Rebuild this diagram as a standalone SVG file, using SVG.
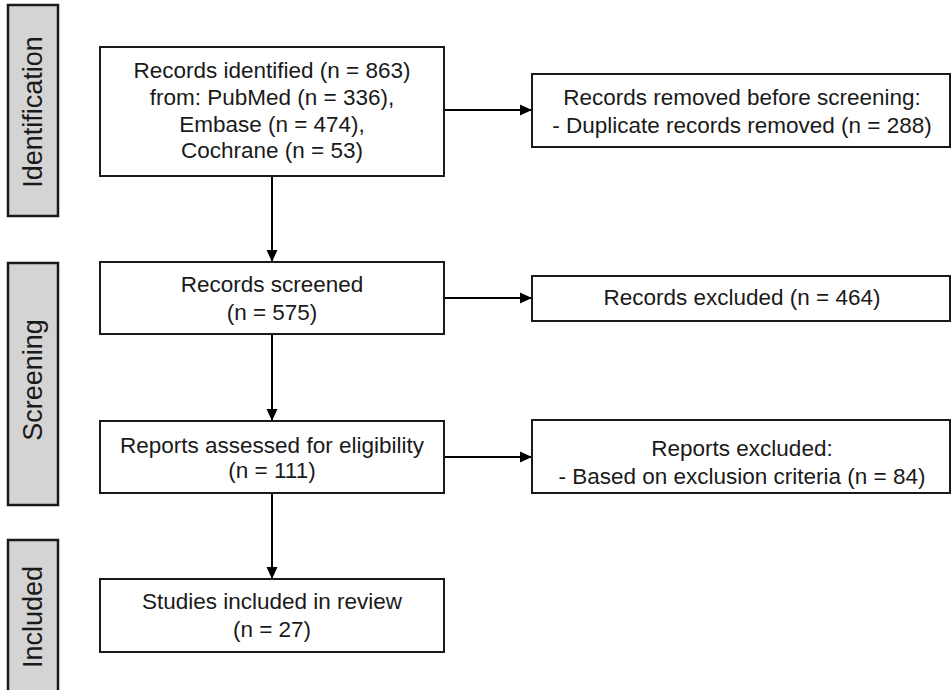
<svg xmlns="http://www.w3.org/2000/svg" width="952" height="690" viewBox="0 0 952 690">
<style>
.box{fill:#fff;stroke:#1a1a1a;stroke-width:2}
.bar{fill:#d4d4d4;stroke:#1a1a1a;stroke-width:2.5}
.t{font-family:"Liberation Sans",Arial,sans-serif;font-size:22.5px;fill:#1a1a1a;text-anchor:middle}
.s{font-family:"Liberation Sans",Arial,sans-serif;font-size:27px;fill:#1a1a1a;text-anchor:middle}
.c{stroke:#000;stroke-width:2;fill:none;marker-end:url(#ah)}
</style>
<defs>
<marker id="ah" viewBox="0 0 12 12" refX="12" refY="6" markerWidth="12" markerHeight="12" markerUnits="userSpaceOnUse" orient="auto">
<path d="M0,0.5 L12,6 L0,11.5 z" fill="#000"/>
</marker>
</defs>
<rect width="952" height="690" fill="#fff"/>
<g id="phase-identification">
<rect class="bar" x="8" y="5" width="50" height="211"/>
<text class="s" transform="translate(42,112) rotate(-90)">Identification</text>
</g>
<g id="phase-screening">
<rect class="bar" x="8" y="263" width="50" height="242"/>
<text class="s" transform="translate(42,380) rotate(-90)">Screening</text>
</g>
<g id="phase-included">
<rect class="bar" x="8" y="540" width="50" height="160"/>
<text class="s" transform="translate(42,617) rotate(-90)">Included</text>
</g>
<g id="connectors">
<path class="c" d="M444,110 H532"/>
<path class="c" d="M272,176 V262"/>
<path class="c" d="M444,298 H532"/>
<path class="c" d="M272,334 V421"/>
<path class="c" d="M444,457 H532"/>
<path class="c" d="M272,493 V579"/>
</g>
<g id="identified">
<rect class="box" x="100" y="47" width="344" height="129"/>
<text class="t" x="272" y="78">Records identified (n = 863)</text>
<text class="t" x="272" y="105">from: PubMed (n = 336),</text>
<text class="t" x="272" y="132">Embase (n = 474),</text>
<text class="t" x="272" y="158">Cochrane (n = 53)</text>
</g>
<g id="removed">
<rect class="box" x="532" y="74" width="418" height="73"/>
<text class="t" x="742" y="105">Records removed before screening:</text>
<text class="t" x="742" y="133">- Duplicate records removed (n = 288)</text>
</g>
<g id="screened">
<rect class="box" x="100" y="262" width="344" height="72"/>
<text class="t" x="272" y="292">Records screened</text>
<text class="t" x="272" y="320">(n = 575)</text>
</g>
<g id="excluded">
<rect class="box" x="532" y="276" width="418" height="45"/>
<text class="t" x="742" y="305">Records excluded (n = 464)</text>
</g>
<g id="assessed">
<rect class="box" x="100" y="421" width="344" height="72"/>
<text class="t" x="272" y="453">Reports assessed for eligibility</text>
<text class="t" x="272" y="478">(n = 111)</text>
</g>
<g id="reports-excluded">
<rect class="box" x="532" y="420" width="418" height="73"/>
<text class="t" x="742" y="456">Reports excluded:</text>
<text class="t" x="742" y="484">- Based on exclusion criteria (n = 84)</text>
</g>
<g id="included">
<rect class="box" x="100" y="579" width="344" height="73"/>
<text class="t" x="272" y="609">Studies included in review</text>
<text class="t" x="272" y="637">(n = 27)</text>
</g>
</svg>
